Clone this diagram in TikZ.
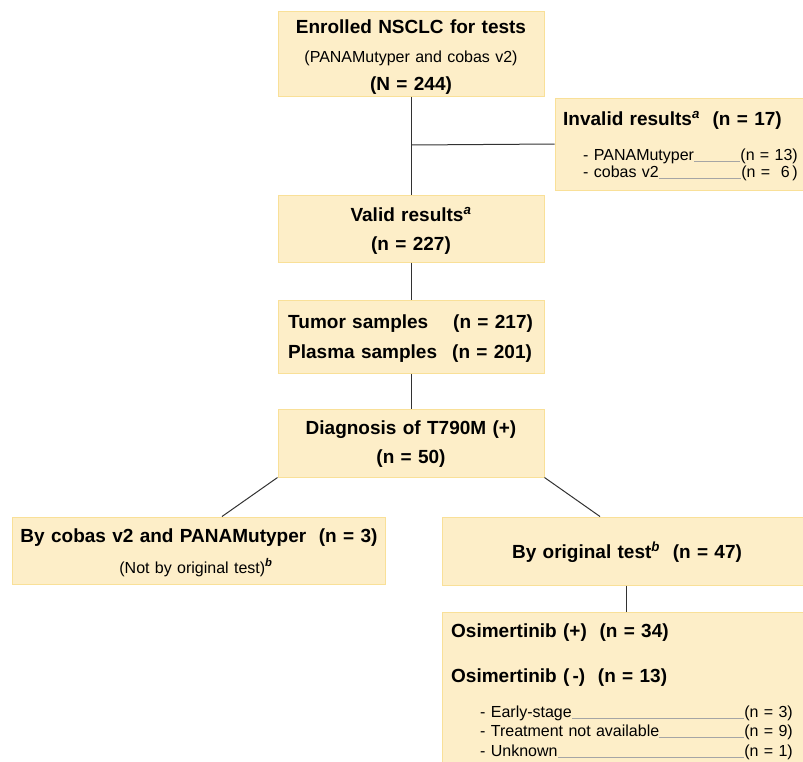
\documentclass[tikz,border=0pt]{standalone}
\usepackage{fontspec}
\setmainfont{Liberation Sans}[WordSpace=1.2]
\definecolor{boxfill}{RGB}{253,238,200}
\definecolor{boxline}{RGB}{249,224,152}
\definecolor{conn}{RGB}{50,50,50}
\definecolor{ulcol}{RGB}{165,165,165}
\newcommand{\supit}[1]{\textsuperscript{\textbf{\textit{#1}}}}
\begin{document}
\begin{tikzpicture}[x=1pt,y=-1pt,
  box/.style={draw=boxline, fill=boxfill, line width=1pt, inner sep=0pt},
  bt/.style={font=\fontsize{19}{22}\selectfont\bfseries, inner sep=0pt, anchor=base},
  rt/.style={font=\fontsize{16}{19}\selectfont, inner sep=0pt, anchor=base},
  conn/.style={draw=conn, line width=1pt},
  uline/.style={draw=ulcol, line width=0.6pt}]
\useasboundingbox (0,0) rectangle (803,761);
% boxes
\node[box, minimum width=266, minimum height=85] (top) at (411,53.5) {};
\node[box, minimum width=251, minimum height=92] (inv) at (680.5,144) {};
\node[box, minimum width=266, minimum height=67] (valid) at (411,228.5) {};
\node[box, minimum width=266, minimum height=73] (tumor) at (411,336.5) {};
\node[box, minimum width=266, minimum height=68] (diag) at (411,443) {};
\node[box, minimum width=373, minimum height=67] (left) at (198.5,550.5) {};
\node[box, minimum width=365, minimum height=68] (orig) at (624.5,551) {};
\node[box, minimum width=365, minimum height=152] (osi) at (624.5,688) {};
% connectors
\coordinate (j) at (411,145);
\draw[conn] (top.south) -- (valid.north);
\draw[conn] (j) -- (inv.west);
\draw[conn] (valid.south) -- (tumor.north);
\draw[conn] (tumor.south) -- (diag.north);
\draw[conn] (diag.south west) -- ([xshift=23.5pt]left.north);
\draw[conn] (diag.south east) -- ([xshift=-24.5pt]orig.north);
\draw[conn] ([xshift=1.5pt]orig.south) -- ([xshift=1.5pt]osi.north);
% top texts
\node[bt] (t1) at (411,33.5) {Enrolled NSCLC for tests};
\node[rt] (t2) at (411,62) {(PANAMutyper and cobas v2)};
\node[bt] (t3) at (411,90.5) {(N = 244)};
% invalid
\node[bt, anchor=base west] (i1) at (563,125) {Invalid results\supit{a}\ \ (n = 17)};
\node[rt, anchor=base west] (i2) at (583,160) {- PANAMutyper};
\node[rt, anchor=base east] (i2n) at (798,160) {(n = 13)};
\node[rt, anchor=base west] (i3) at (583,177) {- cobas v2};
\node[rt, anchor=base east] (i3n) at (798,177) {(n =\ \ 6\,)};
\draw[uline] ([yshift=-1pt]i2.base east) -- ([yshift=-1pt]i2n.base west);
\draw[uline] ([yshift=-1pt]i3.base east) -- ([yshift=-1pt]i3n.base west);
% valid
\node[bt] (v1) at (411,221) {Valid results\supit{a}};
\node[bt] (v2) at (411,250) {(n = 227)};
% tumor
\node[bt, anchor=base west] (s1) at (288,328) {Tumor samples};
\node[bt, anchor=base west] (s1n) at (453,328) {(n = 217)};
\node[bt, anchor=base west] (s2) at (288,358) {Plasma samples};
\node[bt, anchor=base west] (s2n) at (452,358) {(n = 201)};
% diagnosis
\node[bt] (d1) at (411,434) {Diagnosis of T790M (+)};
\node[bt] (d2) at (411,463) {(n = 50)};
% left branch
\node[bt] (l1) at (199,542) {By cobas v2 and PANAMutyper\ \ (n = 3)};
\node[rt] (l2) at (196,573) {(Not by original test)\supit{b}};
% right branch
\node[bt] (o1) at (627,558) {By original test\supit{b}\ \ (n = 47)};
% osimertinib
\node[bt, anchor=base west] (m1) at (451,637) {Osimertinib\ (+)\ \ (n = 34)};
\node[bt, anchor=base west] (m2) at (451,682) {Osimertinib\ (\,-)\ \ (n = 13)};
\node[rt, anchor=base west] (e1) at (480,717) {- Early-stage};
\node[rt, anchor=base east] (e1n) at (793,717) {(n = 3)};
\node[rt, anchor=base west] (e2) at (480,736) {- Treatment not available};
\node[rt, anchor=base east] (e2n) at (793,736) {(n = 9)};
\node[rt, anchor=base west] (e3) at (480,756) {- Unknown};
\node[rt, anchor=base east] (e3n) at (793,756) {(n = 1)};
\draw[uline] ([yshift=-1pt]e1.base east) -- ([yshift=-1pt]e1n.base west);
\draw[uline] ([yshift=-1pt]e2.base east) -- ([yshift=-1pt]e2n.base west);
\draw[uline] ([yshift=-1pt]e3.base east) -- ([yshift=-1pt]e3n.base west);
\end{tikzpicture}
\end{document}
